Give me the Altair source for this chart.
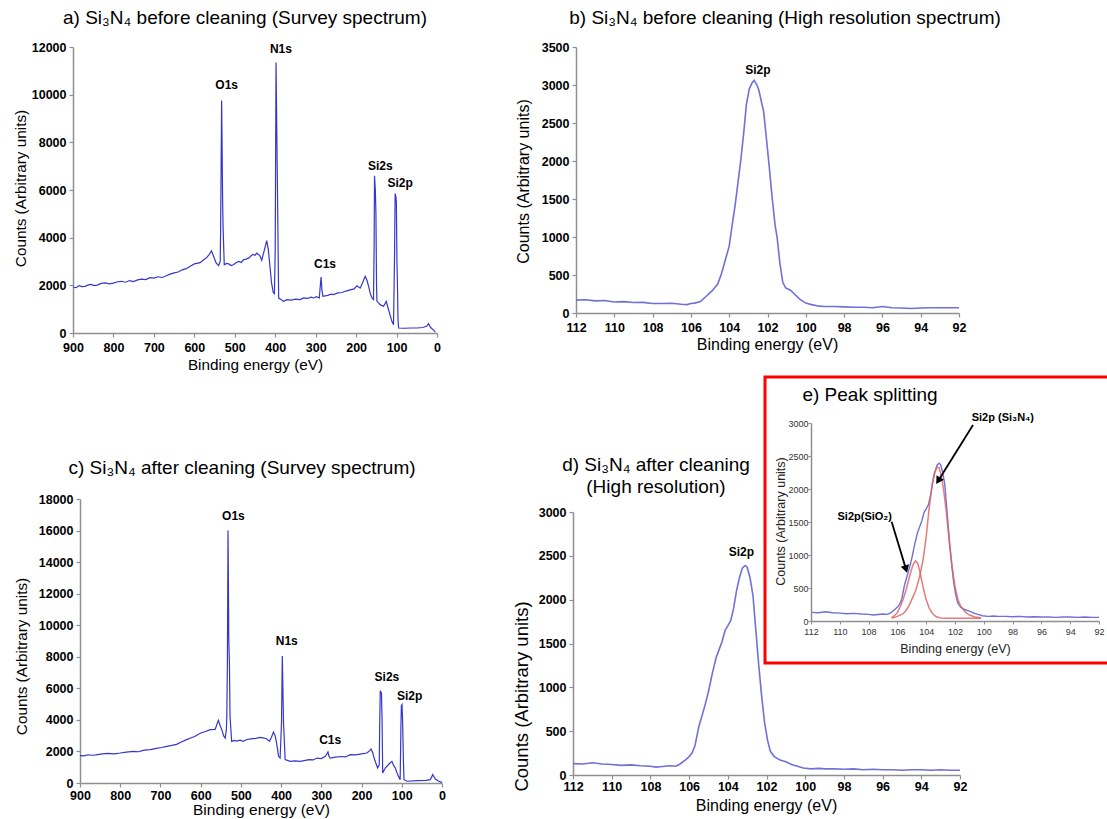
import altair as alt
import pandas as pd

W, H = 1107, 819
FONT = "Liberation Sans"
SURVEY_BLUE = "#3636cc"
HIRES_BLUE = "#7070d8"
FIT_RED = "#e06464"
AXIS_GREY = "#8f8f8f"

# ---------------- spectra: binding energy (eV) and counts ----------------
# a) survey, before cleaning
a_energy = [900, 892, 885, 878, 870, 862, 855, 848, 840, 830, 820, 810, 800, 790, 780, 770, 760,
            751, 740, 730, 720, 710, 700, 690, 680, 669, 660, 650, 640, 630, 620, 610, 600,
            586, 576, 570, 563, 557.5, 552, 546.5, 540, 536, 535, 532.5, 530, 529, 526, 520,
            515, 509, 503.5, 497, 490, 484, 479, 472, 465, 460, 455, 450, 446, 438, 433.5, 428,
            421, 417, 413, 409, 405, 402, 400, 398, 395, 391.5, 385, 380, 370, 360, 350, 338,
            330, 320, 312, 305, 298, 291, 288, 286.5, 284.5, 282, 270, 262, 256, 245, 235, 225,
            215, 205, 198, 190, 183, 177.5, 173, 169, 164, 160, 157, 155.5, 154.5, 152.5, 151,
            149.5, 148.5, 144, 140, 132, 128, 125.5, 121, 116, 111.5, 107.5, 105, 103.5, 101.5,
            100.5, 99, 98, 96.5, 95, 80, 65, 50, 35, 25, 21, 18, 15, 8, 4]
a_counts = [1930, 1900, 1990, 1950, 1960, 2020, 2040, 1990, 2010, 2080, 2100, 2060, 2090, 2150,
            2170, 2130, 2200, 2160, 2230, 2260, 2240, 2320, 2300, 2360, 2330, 2400, 2470, 2520,
            2560, 2650, 2700, 2800, 2900,
            2950, 3080, 3150, 3300, 3450, 3200, 2950, 2830, 3000, 4330, 9750, 5500, 4470, 2860,
            2920, 2900, 2830, 2860, 2950, 3000, 2960, 3070, 3100, 3150, 3230, 3300, 3260, 3350,
            3250, 3050, 3400, 3880, 3500, 2790, 2100, 1700, 1650, 3490, 11350, 6840, 1465, 1400,
            1330, 1400, 1380, 1420, 1400, 1470, 1450, 1500, 1470, 1520, 1470, 2100, 2350, 1800,
            1540, 1580, 1630, 1610, 1680, 1700, 1760, 1810, 1850, 1980, 1880, 2150, 2380, 2200,
            1950, 1600, 1450, 1400, 3500, 6600, 6000, 5000, 2000, 1330, 1250, 1180, 1120, 1250,
            1330, 1050, 750, 490, 350, 3200, 5850, 5700, 5500, 3000, 2230, 600, 210, 200, 210,
            210, 230, 290, 390, 300, 220, 110, 40]

# b) Si2p high resolution, before cleaning
b_energy = [112, 111.5, 111, 110.5, 110, 109.5, 109, 108.5, 108, 107.5, 107, 106.5, 106.2, 106,
            105.8, 105.5, 105.2, 104.9, 104.6, 104.4, 104.2, 104, 103.85, 103.7, 103.55, 103.4,
            103.25, 103.1, 102.95, 102.8, 102.7, 102.55, 102.45, 102.3, 102.2, 102.05, 101.9,
            101.75, 101.6, 101.5, 101.35, 101.2, 101.05, 100.8, 100.6, 100.3, 100, 99.7, 99.3,
            99, 98.5, 98, 97.5, 97, 96.5, 96, 95.5, 95, 94.5, 94, 93.5, 93, 92.5, 92]
b_counts = [170, 175, 160, 165, 145, 150, 138, 140, 125, 125, 128, 115, 110, 125, 130, 150, 220,
            290, 380, 520, 700, 880, 1150, 1400, 1700, 2000, 2350, 2750, 2950, 3030, 3060, 3000,
            2930, 2760, 2650, 2280, 1900, 1500, 1150, 1000, 650, 400, 330, 300, 250, 180, 130,
            110, 90, 85, 85, 80, 75, 75, 70, 85, 70, 65, 60, 65, 70, 70, 70, 70]

# c) survey, after cleaning
c_energy = [900, 890, 880, 870, 860, 845, 830, 815, 800, 785, 767, 755, 740, 725, 710, 697, 684,
            672, 660, 648, 635, 625, 615, 601,
            590, 576, 564, 556, 551, 547.5, 543, 539, 536, 535, 533.5, 532, 530, 528.5, 527, 523,
            516, 510, 502, 494, 485, 475, 463, 452, 442, 435.5, 429, 424, 419, 415, 412, 408,
            406.5, 402.5, 399, 397, 394, 390, 377.5, 365, 352, 340, 330, 320, 311, 300, 290, 286,
            283.5, 281, 278, 265, 250, 240, 228, 215, 200, 186.5, 180, 176.5, 172, 170, 165, 160,
            156, 155, 153.5, 150.5, 149, 147.5, 141, 130, 124.5, 120, 116, 112, 108, 104, 103,
            102, 101, 99.5, 98, 96, 94.5, 87, 60, 40, 29, 23, 20, 16.5, 8, 0]
c_counts = [1740, 1720, 1790, 1760, 1780, 1840, 1880, 1850, 1900, 1960, 2000, 1980, 2080, 2120,
            2200, 2250, 2320, 2380, 2450, 2600, 2750, 2850, 2950, 3150,
            3250, 3380, 3400, 3970, 3600, 3380, 3000, 2850, 3400, 4226, 7700, 16000, 9000, 7600,
            4226, 2640, 2700, 2660, 2720, 2640, 2760, 2800, 2830, 2890, 2850, 2790, 2640, 2900,
            3230, 3000, 2640, 2000, 1690, 1585, 3800, 8050, 3800, 1480, 1370, 1400, 1370, 1430,
            1480, 1460, 1580, 1550, 1690, 1850, 1965, 1700, 1585, 1640, 1680, 1650, 1800, 1780,
            1850, 1900, 2050, 2150, 1900, 1690, 1300, 950, 1162, 3500, 5850, 5700, 4000, 640,
            950, 1250, 1370, 1100, 950, 650, 420, 210, 2000, 3800, 4900, 4965, 4014, 1500, 210,
            110, 150, 170, 210, 530, 400, 250, 110, 40]

# d) Si2p high resolution, after cleaning (also the measured envelope in e)
d_energy = [112, 111.5, 111, 110.5, 110, 109.5, 109, 108.5, 108, 107.7, 107.5, 107, 106.7, 106.5,
            106.2, 106, 105.85, 105.7, 105.5, 105.3, 105.15, 105, 104.8, 104.6, 104.45, 104.3,
            104.14, 104, 103.85, 103.7, 103.55, 103.4, 103.25, 103.1, 103, 102.85, 102.7, 102.55,
            102.4, 102.25, 102.1, 101.95, 101.8, 101.6, 101.3, 101, 100.7, 100.4, 100.1, 99.7,
            99.3, 99, 98.5, 98, 97.5, 97, 96.5, 96, 95.5, 95, 94.5, 94, 93.5, 93, 92.5, 92]
d_counts = [130, 125, 140, 125, 120, 110, 115, 105, 100, 90, 95, 105, 100, 120, 170, 210, 250,
            330, 550, 700, 820, 950, 1160, 1340, 1430, 1520, 1650, 1700, 1760, 1900, 2100, 2250,
            2360, 2390, 2370, 2250, 2050, 1650, 1250, 900, 600, 400, 270, 210, 170, 150, 120,
            100, 80, 70, 75, 70, 70, 65, 70, 60, 65, 60, 60, 55, 60, 60, 55, 60, 55, 55]

# e) fitted components of the Si2p envelope
e_sio2_energy = [106.4, 106.2, 106, 105.8, 105.6, 105.4, 105.2, 105.05, 104.9, 104.75, 104.6,
                 104.45, 104.3, 104.15, 104, 103.8, 103.55, 103.3, 103, 102.5, 101.5, 100.5, 100.2]
e_sio2_counts = [50, 80, 130, 220, 330, 470, 640, 760, 860, 910, 880, 760, 600, 450, 320, 200,
                 110, 65, 45, 40, 40, 40, 40]
e_si3n4_energy = [106.4, 106, 105.6, 105.4, 105.2, 104.95, 104.7, 104.45, 104.2, 104, 103.8, 103.6,
                  103.45, 103.25, 103.1, 102.95, 102.8, 102.6, 102.4, 102.2, 102, 101.8, 101.6,
                  101.3, 101, 100.6, 100.2]
e_si3n4_counts = [40, 70, 110, 160, 230, 350, 480, 680, 950, 1280, 1700, 2040, 2230, 2330, 2320,
                  2200, 2000, 1650, 1200, 820, 520, 330, 220, 140, 90, 60, 45]

# ---------------- annotations ----------------
a_peaks = ["O1s", "N1s", "C1s", "Si2s", "Si2p"]
a_peak_energy = [520, 386, 277, 140, 91]
a_peak_counts = [10400, 11900, 2900, 7020, 6300]

b_peaks = ["Si2p"]
b_peak_energy = [102.5]
b_peak_counts = [3200]

c_peaks = ["O1s", "N1s", "C1s", "Si2s", "Si2p"]
c_peak_energy = [518.5, 386, 278, 137, 80.5]
c_peak_counts = [16900, 8980, 2750, 6700, 5535]

d_peaks = ["Si2p"]
d_peak_energy = [103.3]
d_peak_counts = [2540]

e_callouts = ["Si2p (Si₃N₄)", "Si2p(SiO₂)"]
e_callout_energy = [100.84, 106.38]
e_callout_counts = [3076, 1576]
e_callout_align = ["left", "right"]

arrow_tail_energy = [100.75, 106.4]
arrow_tail_counts = [2970, 1505]
arrow_tip_energy = [103.12, 105.43]
arrow_tip_counts = [2141, 805]
arrow_heading = [212, 163]

energy_ticks_survey = [900, 800, 700, 600, 500, 400, 300, 200, 100, 0]
energy_ticks_hires = [112, 110, 108, 106, 104, 102, 100, 98, 96, 94, 92]

# ---------------- page layout of each plot area (pixels) ----------------
GEOM = {
    "a": dict(xd=[900, 0], xr=[73, 437], yd=[0, 12000], yr=[333, 47]),
    "b": dict(xd=[112, 92], xr=[576, 959], yd=[0, 3500], yr=[313, 47]),
    "c": dict(xd=[900, 0], xr=[80, 442], yd=[0, 18000], yr=[783, 499]),
    "d": dict(xd=[112, 92], xr=[573, 960], yd=[0, 3000], yr=[775, 512]),
    "e": dict(xd=[112, 92], xr=[811, 1099], yd=[0, 3000], yr=[621, 423]),
}

BIG_AXIS = dict(grid=False, domainColor=AXIS_GREY, domainWidth=1.5, tickColor=AXIS_GREY,
                tickWidth=1.2, tickSize=4, labelFont=FONT, labelFontSize=12.5,
                labelFontWeight="bold", labelColor="black", labelFlush=False,
                labelOverlap=False, titleFont=FONT, titleFontWeight="normal",
                titleColor="black", format="d")
SMALL_AXIS = dict(grid=False, domainColor=AXIS_GREY, domainWidth=1.5, tickColor=AXIS_GREY,
                  tickWidth=1, tickSize=3, labelFont=FONT, labelFontSize=9,
                  labelFontWeight="normal", labelColor="#333333", labelFlush=False,
                  labelOverlap=False, titleFont=FONT, titleFontWeight="normal",
                  titleColor="#222222", format="d", zindex=1)


def x_axis(key, values, title_x, title_y, title_size, label_pad, style=BIG_AXIS):
    g = GEOM[key]
    return alt.Axis(orient="bottom", offset=g["yr"][0] - H, values=values,
                    title="Binding energy (eV)", titleX=title_x, titleY=title_y,
                    titleFontSize=title_size, labelPadding=label_pad, **style)


def y_axis(key, values, title_x, title_y, title_size, label_pad, style=BIG_AXIS):
    g = GEOM[key]
    return alt.Axis(orient="left", offset=-g["xr"][0], values=values,
                    title="Counts (Arbitrary units)", titleX=title_x, titleY=title_y,
                    titleFontSize=title_size, labelPadding=label_pad, **style)


def xy(key, xa=None, ya=None):
    g = GEOM[key]
    return dict(
        x=alt.X("energy:Q", scale=alt.Scale(domain=g["xd"], range=g["xr"], nice=False, zero=False),
                axis=xa),
        y=alt.Y("counts:Q", scale=alt.Scale(domain=g["yd"], range=g["yr"], nice=False, zero=False),
                axis=ya),
    )


def spectrum(key, energy, counts, color, width, xa=None, ya=None, opacity=1.0):
    df = pd.DataFrame({"energy": energy, "counts": counts})
    return alt.Chart(df).mark_line(color=color, strokeWidth=width, opacity=opacity).encode(
        **xy(key, xa, ya))


def peak_labels(key, labels, energy, counts, size=12):
    df = pd.DataFrame({"label": labels, "energy": energy, "counts": counts})
    return alt.Chart(df).mark_text(font=FONT, fontSize=size, fontWeight="bold",
                                   color="black", baseline="middle").encode(
        text="label:N", **xy(key))


def page_text(text, x, y, size, align="center"):
    return alt.Chart(pd.DataFrame({"t": [text]})).mark_text(
        font=FONT, fontSize=size, align=align, baseline="middle", color="black").encode(
        text="t:N", x=alt.value(x), y=alt.value(y))


hi_y = [0, 500, 1000, 1500, 2000, 2500, 3000]

layers = [
    # a)
    spectrum("a", a_energy, a_counts, SURVEY_BLUE, 1.2,
             x_axis("a", energy_ticks_survey, 255, 24, 15.3, 4),
             y_axis("a", list(range(0, 12001, 2000)), -45, 188, 15.3, 3)),
    peak_labels("a", a_peaks, a_peak_energy, a_peak_counts),
    page_text("a) Si₃N₄ before cleaning (Survey spectrum)", 245, 18, 19),
    # b)
    spectrum("b", b_energy, b_counts, HIRES_BLUE, 1.6,
             x_axis("b", energy_ticks_hires, 767, 23, 16, 4),
             y_axis("b", list(range(0, 3501, 500)), -45, 181, 16, 3)),
    peak_labels("b", b_peaks, b_peak_energy, b_peak_counts),
    page_text("b) Si₃N₄ before cleaning (High resolution spectrum)", 785, 18, 19),
    # c)
    spectrum("c", c_energy, c_counts, SURVEY_BLUE, 1.2,
             x_axis("c", energy_ticks_survey, 261, 19, 15.5, 2),
             y_axis("c", list(range(0, 18001, 2000)), -51, 656, 15.3, 3)),
    peak_labels("c", c_peaks, c_peak_energy, c_peak_counts),
    page_text("c) Si₃N₄ after cleaning (Survey spectrum)", 242, 468, 19),
    # d)
    spectrum("d", d_energy, d_counts, HIRES_BLUE, 1.6,
             x_axis("d", energy_ticks_hires, 766, 22, 16, 1),
             y_axis("d", hi_y, -42, 696, 18.5, 3)),
    peak_labels("d", d_peaks, d_peak_energy, d_peak_counts),
    page_text("d) Si₃N₄ after cleaning", 656, 465, 19),
    page_text("(High resolution)", 656, 487, 19),
    # e) inset frame
    alt.Chart(pd.DataFrame({"k": [0]})).mark_rect(fill="white", stroke="#ff0000",
                                                  strokeWidth=3).encode(
        x=alt.value(765), x2=alt.value(1112), y=alt.value(377), y2=alt.value(663)),
    spectrum("e", d_energy, d_counts, HIRES_BLUE, 1.4,
             x_axis("e", energy_ticks_hires, 955, 21, 12.5, 3, SMALL_AXIS),
             y_axis("e", hi_y, -24, 521, 12.5, 0, SMALL_AXIS)),
    spectrum("e", e_sio2_energy, e_sio2_counts, FIT_RED, 1.5, opacity=0.85),
    spectrum("e", e_si3n4_energy, e_si3n4_counts, FIT_RED, 1.5, opacity=0.85),
    page_text("e) Peak splitting", 870, 395, 19),
]

# callouts with arrows in the inset
callouts = pd.DataFrame({"label": e_callouts, "energy": e_callout_energy,
                         "counts": e_callout_counts, "align": e_callout_align})
for align in ["left", "right"]:
    layers.append(
        alt.Chart(callouts[callouts["align"] == align]).mark_text(
            font=FONT, fontSize=11, fontWeight="bold", color="black", align=align,
            baseline="middle").encode(text="label:N", **xy("e")))

arrows = pd.DataFrame({"energy": arrow_tail_energy, "counts": arrow_tail_counts,
                       "energy2": arrow_tip_energy, "counts2": arrow_tip_counts})
layers.append(
    alt.Chart(arrows).mark_rule(color="black", strokeWidth=1.8).encode(
        x2="energy2:Q", y2="counts2:Q", **xy("e")))

heads = pd.DataFrame({"energy": arrow_tip_energy, "counts": arrow_tip_counts,
                      "heading": arrow_heading})
layers.append(
    alt.Chart(heads).mark_point(shape="triangle", filled=True, size=75, color="black",
                                opacity=1).encode(
        angle=alt.Angle("heading:Q", scale=None), **xy("e")))

chart = alt.layer(*layers).resolve_scale(x="independent", y="independent").properties(
    width=W, height=H, autosize=alt.AutoSizeParams(type="none"), padding=0,
    background="white").configure_view(strokeWidth=0)

chart.save("out.html", embed_options={"renderer": "svg", "actions": False})
